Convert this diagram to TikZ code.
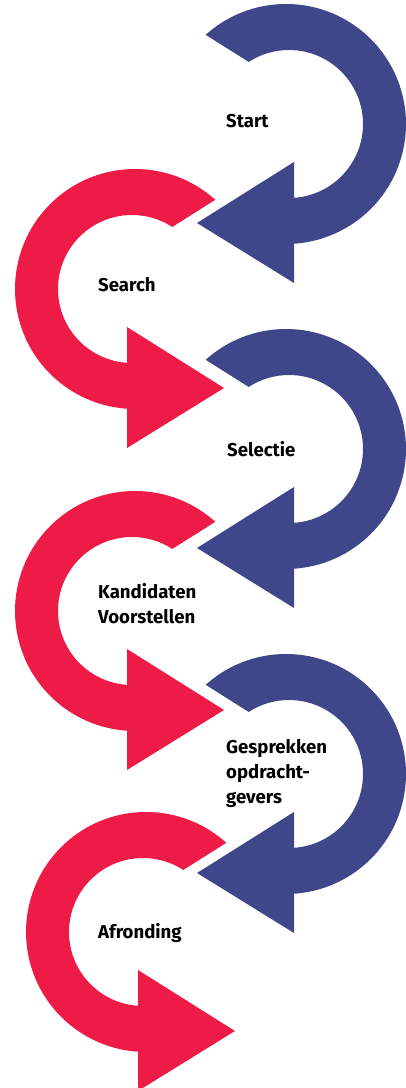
\documentclass[tikz,border=0pt]{standalone}
\usepackage{fontspec}
\setmainfont{Fira Sans}
\usetikzlibrary{calc}
\definecolor{loopblue}{RGB}{63,71,138}
\definecolor{loopred}{RGB}{238,27,71}
\tikzset{bluebend/.style={fill=loopblue, draw=none}}
\tikzset{redbend/.style={fill=loopred, draw=none}}
\tikzset{steptext/.style={
        font=\bfseries\fontsize{18.6}{25}\selectfont,
        inner sep=0pt,
        anchor=base west,
        align=left
}}

\begin{document}
\begin{tikzpicture}[x=1pt,y=1pt]
\useasboundingbox (0,0) rectangle (405,1088);

% blue loops, turning right
\foreach \cx/\cy in {289/964, 289/639, 289/314} {
  \fill[bluebend] (\cx-3,\cy) ++(132:120) arc[start angle=132, end angle=-90, radius=120]
    -- (\cx+5,\cy-120) -- (\cx+5,\cy-159) -- (\cx-92,\cy-99) -- (\cx+5,\cy-38)
    -- (\cx+5,\cy-74) -- (\cx,\cy-74) arc[start angle=-90, end angle=123, radius=74] -- cycle;
}
% red loops, turning left
\foreach \cx/\cy in {132/799, 132/477, 143/156} {
  \fill[redbend] (\cx+3,\cy) ++(48:120) arc[start angle=48, end angle=270, radius=120]
    -- (\cx-5,\cy-120) -- (\cx-5,\cy-159) -- (\cx+92,\cy-99) -- (\cx-5,\cy-38)
    -- (\cx-5,\cy-74) -- (\cx,\cy-74) arc[start angle=270, end angle=57, radius=74] -- cycle;
}

% labels (base = last line)
\node[steptext] (start) at (226,960.7) {Start};
\node[steptext] (search) at (98,796.3) {Search};
\node[steptext] (selectie) at (227,631.3) {Selectie};
\node[steptext] (kandidaten) at (98,464.7) {Kandidaten\\Voorstellen};
\node[steptext] (gesprekken) at (226,284.7) {Gesprekken\\opdracht-\\gevers};
\node[steptext] (afronding) at (98,149.7) {Afronding};
\end{tikzpicture}
\end{document}
